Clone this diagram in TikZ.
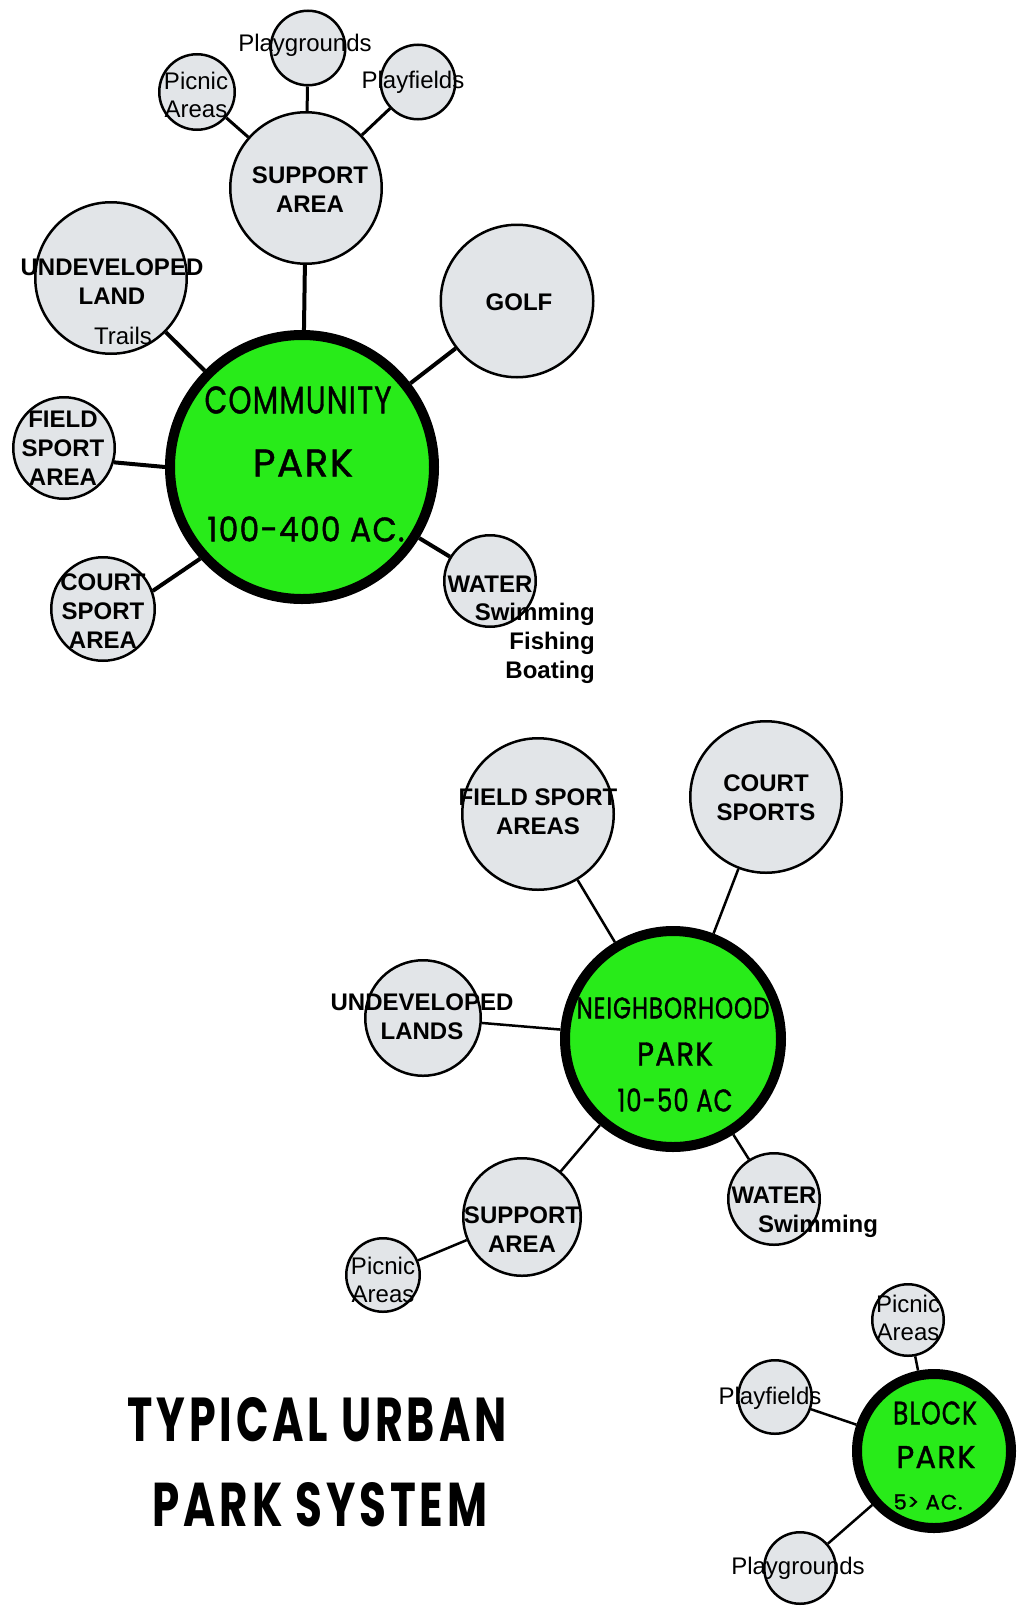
\documentclass[tikz,border=0pt]{standalone}
\usepackage{fontspec}
\usepackage{graphicx}
\setmainfont{Liberation Sans}
\newfontfamily\parkfont[FakeBold=1.2,LetterSpace=4]{Poppins}
\newfontfamily\titlefont[LetterSpace=9]{Poppins}

\definecolor{parkgreen}{RGB}{40,235,25}
\definecolor{satfill}{RGB}{226,229,232}

\tikzset{
  sat/.style={circle, draw=black, line width=2.5pt, fill=satfill, inner sep=0pt},
  park/.style={circle, draw=black, line width=10pt, fill=parkgreen, inner sep=0pt},
  lbl/.style={inner sep=0pt, align=center, font=\fontsize{24}{29}\selectfont\bfseries},
  sublbl/.style={inner sep=0pt, align=center, font=\fontsize{24}{28}\selectfont},
  ptxt/.style={inner sep=0pt, font=\parkfont},
  ttxt/.style={inner sep=0pt, font=\titlefont\bfseries},
  biglink/.style={line width=4pt},
  midlink/.style={line width=3pt},
  smalllink/.style={line width=2.5pt},
}

\begin{document}
\begin{tikzpicture}[x=1pt, y=-1pt]
\fill[white] (0,0) rectangle (1017,1606);
\useasboundingbox (0,0) rectangle (1017,1606);
\clip (0,0) rectangle (1017,1606);

% ---------------- Community park ----------------
\node[park, minimum size=264] (cp) at (302,467) {};
\node[sat, minimum size=151.5] (sa1) at (306,188) {};
\node[sat, minimum size=74.5] (pg1) at (308,48) {};
\node[sat, minimum size=75.5] (pa1) at (197,92) {};
\node[sat, minimum size=74.5] (pf1) at (418,82) {};
\node[sat, minimum size=151.5] (ul1) at (111,278) {};
\node[sat, minimum size=152.5] (golf) at (517,301) {};
\node[sat, minimum size=101.5] (fs1) at (64,448) {};
\node[sat, minimum size=103.5] (cs1) at (103,609) {};
\node[sat, minimum size=91.5] (w1) at (490,581) {};

\draw[biglink] (cp) -- (sa1);
\draw[biglink] (cp) -- (ul1);
\draw[biglink] (cp) -- (golf);
\draw[biglink] (fs1.-16) -- (cp.180);
\draw[biglink] (cs1.20) -- (cp.222);
\draw[biglink] (cp) -- (w1);
\draw[midlink] (sa1) -- (pg1);
\draw[midlink] (sa1) -- (pa1);
\draw[midlink] (sa1) -- (pf1);

\node[ptxt] (cpt1) at (298,400) {\resizebox{187pt}{27pt}{COMMUNITY}};
\node[ptxt] (cpt2) at (303,463) {\resizebox{100pt}{27pt}{PARK}};
\node[ptxt] (cpt3) at (306,529) {\resizebox{197pt}{25pt}{100-400 AC.}};

\node[lbl] (sa1t) at (310,190) {SUPPORT\\AREA};
\node[sublbl] (pg1t) at (305,45) {Playgrounds};
\node[sublbl] (pa1t) at (196,95) {Picnic\\Areas};
\node[sublbl] (pf1t) at (413,82) {Playfields};
\node[lbl] (ul1t) at (112,282) {UNDEVELOPED\\LAND};
\node[sublbl] (ul1s) at (123,336) {Trails};
\node[lbl] (golft) at (519,302) {GOLF};
\node[lbl] (fs1t) at (63,448) {FIELD\\SPORT\\AREA};
\node[lbl] (cs1t) at (103,611) {COURT\\SPORT\\AREA};
\node[lbl] (w1t) at (490,584) {WATER};
\node[lbl, align=right, anchor=north east] (w1s) at (595,603) {Swimming\\Fishing\\Boating};

% ---------------- Neighborhood park ----------------
\node[park, minimum size=216] (np) at (673,1039) {};
\node[sat, minimum size=151.5] (fsa2) at (538,814) {};
\node[sat, minimum size=151.5] (cs2) at (766,797) {};
\node[sat, minimum size=115.5] (ul2) at (423,1018) {};
\node[sat, minimum size=117.5] (sa2) at (522,1217) {};
\node[sat, minimum size=73.5] (pa2) at (383,1275) {};
\node[sat, minimum size=91.5] (w2) at (774,1199) {};

\draw[smalllink] (np) -- (fsa2);
\draw[smalllink] (np) -- (cs2);
\draw[smalllink] (np) -- (ul2);
\draw[smalllink] (np) -- (sa2);
\draw[smalllink] (np) -- (w2);
\draw[smalllink] (sa2) -- (pa2);

\node[ptxt] (npt1) at (673,1008) {\resizebox{193pt}{21pt}{NEIGHBORHOOD}};
\node[ptxt] (npt2) at (675,1054) {\resizebox{76pt}{23pt}{PARK}};
\node[ptxt] (npt3) at (675,1100) {\resizebox{115pt}{23pt}{10-50 AC}};

\node[lbl] (fsa2t) at (538,812) {FIELD SPORT\\AREAS};
\node[lbl] (cs2t) at (766,798) {COURT\\SPORTS};
\node[lbl] (ul2t) at (422,1017) {UNDEVELOPED\\LANDS};
\node[lbl] (sa2t) at (522,1230) {SUPPORT\\AREA};
\node[sublbl] (pa2t) at (383,1280) {Picnic\\Areas};
\node[lbl] (w2t) at (774,1195) {WATER};
\node[lbl] (w2s) at (818,1226) {Swimming};

% ---------------- Block park ----------------
\node[park, minimum size=154] (bp) at (934,1451) {};
\node[sat, minimum size=71.5] (pa3) at (908,1320) {};
\node[sat, minimum size=73.5] (pf3) at (775,1397) {};
\node[sat, minimum size=71.5] (pg3) at (800,1568) {};

\draw[smalllink] (bp) -- (pa3);
\draw[smalllink] (bp) -- (pf3);
\draw[smalllink] (bp) -- (pg3);

\node[ptxt] (bpt1) at (935,1413) {\resizebox{84pt}{23pt}{BLOCK}};
\node[ptxt] (bpt2) at (936,1457) {\resizebox{79pt}{22pt}{PARK}};
\node[ptxt] (bpt3) at (928,1502) {\resizebox{69pt}{15pt}{5> AC.}};

\node[sublbl] (pa3t) at (908,1318) {Picnic\\Areas};
\node[sublbl] (pf3t) at (770,1398) {Playfields};
\node[sublbl] (pg3t) at (798,1568) {Playgrounds};

% ---------------- Title ----------------
\node[ttxt] (title1) at (317,1420) {\resizebox{379pt}{44pt}{TYPICAL URBAN}};
\node[ttxt] (title2) at (320,1505) {\resizebox{335pt}{44pt}{PARK SYSTEM}};
\end{tikzpicture}
\end{document}
